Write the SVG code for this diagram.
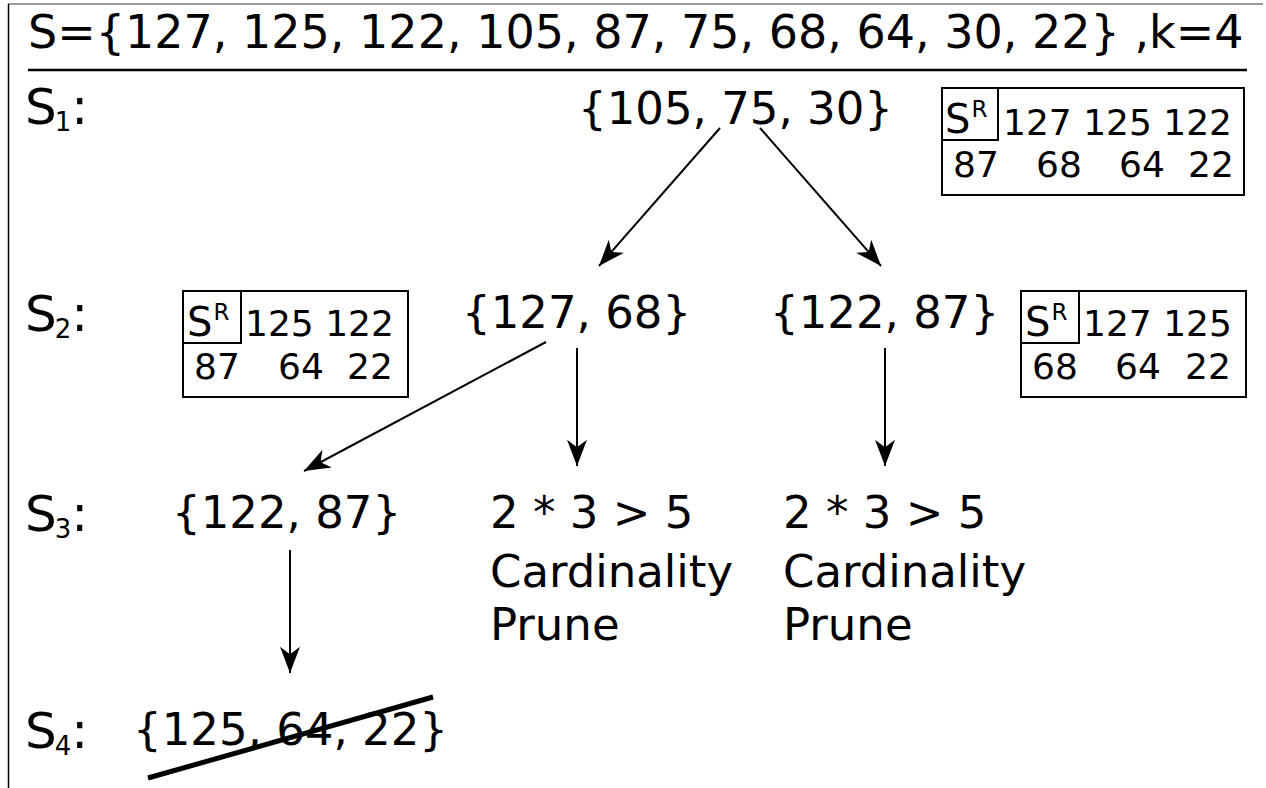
<svg xmlns="http://www.w3.org/2000/svg" width="1266" height="788" viewBox="0 0 1266 788">
<defs>
<style>
text{font-family:"DejaVu Sans","Noto Sans",sans-serif;fill:#000}
.big{font-size:45px}
.lvl{font-size:50px}
.title{font-size:46px}
.sub{font-size:26px}
.bx{font-size:36px}
.sr{font-size:40px}
.sup{font-size:23px}
.edge{stroke:#000;stroke-width:2;fill:none;marker-end:url(#ah)}
.box{fill:none;stroke:#000;stroke-width:2}
</style>
<marker id="ah" markerUnits="userSpaceOnUse" markerWidth="30" markerHeight="30" viewBox="-22 -10 24 20" refX="0" refY="0" orient="auto">
<path d="M0,0 L-21,-8 L-15,0 L-21,8 Z" fill="#000"/>
</marker>
</defs>
<rect width="1266" height="788" fill="#fff"/>
<g id="frame">
<line x1="8" y1="4" x2="1263" y2="4" stroke="#777" stroke-width="1.5"/>
<line x1="8.5" y1="4" x2="8.5" y2="788" stroke="#000" stroke-width="1.5"/>
<line x1="28" y1="70" x2="1247" y2="70" stroke="#000" stroke-width="2.5"/>
</g>
<g id="title"><text class="title" x="28" y="48">S={127, 125, 122, 105, 87, 75, 68, 64, 30, 22} ,k=4</text></g>
<g id="levels">
<text class="lvl" x="25" y="124">S<tspan class="sub" dx="-2" dy="7">1</tspan><tspan dy="-7">:</tspan></text>
<text class="lvl" x="25" y="331">S<tspan class="sub" dx="-2" dy="7">2</tspan><tspan dy="-7">:</tspan></text>
<text class="lvl" x="25" y="531">S<tspan class="sub" dx="-2" dy="7">3</tspan><tspan dy="-7">:</tspan></text>
<text class="lvl" x="25" y="748">S<tspan class="sub" dx="-2" dy="7">4</tspan><tspan dy="-7">:</tspan></text>
</g>
<g id="n1"><text class="big" x="578" y="124">{105, 75, 30}</text></g>
<g id="n2"><text class="big" x="462" y="328">{127, 68}</text></g>
<g id="n3"><text class="big" x="770" y="328">{122, 87}</text></g>
<g id="n4"><text class="big" x="172" y="528">{122, 87}</text></g>
<g id="n5"><text class="big" x="490" y="528">2 * 3 &gt; 5</text><text class="big" x="490" y="587">Cardinality</text><text class="big" x="490" y="640">Prune</text></g>
<g id="n6"><text class="big" x="783" y="528">2 * 3 &gt; 5</text><text class="big" x="783" y="587">Cardinality</text><text class="big" x="783" y="640">Prune</text></g>
<g id="n7"><text class="big" x="133" y="745">{125, 64, 22}</text><line x1="148" y1="778" x2="433" y2="697" stroke="#000" stroke-width="5"/></g>
<g id="sr1">
<rect class="box" x="942" y="88" width="302" height="107"/>
<rect class="box" x="942" y="88" width="56" height="52"/>
<text class="sr" x="945" y="133">S<tspan class="sup" dx="1" dy="-16">R</tspan></text>
<text class="bx" x="1003" y="135">127 125 122</text>
<text class="bx" x="953" y="177">87</text><text class="bx" x="1036" y="177">68</text><text class="bx" x="1119" y="177">64</text><text class="bx" x="1188" y="177">22</text>
</g>
<g id="sr2">
<rect class="box" x="183" y="291" width="225" height="106"/>
<rect class="box" x="183" y="291" width="58" height="52"/>
<text class="sr" x="187" y="336">S<tspan class="sup" dx="1" dy="-16">R</tspan></text>
<text class="bx" x="245" y="336">125 122</text>
<text class="bx" x="194" y="379">87</text><text class="bx" x="278" y="379">64</text><text class="bx" x="347" y="379">22</text>
</g>
<g id="sr3">
<rect class="box" x="1021" y="291" width="225" height="106"/>
<rect class="box" x="1021" y="291" width="58" height="52"/>
<text class="sr" x="1025" y="336">S<tspan class="sup" dx="1" dy="-16">R</tspan></text>
<text class="bx" x="1083" y="336">127 125</text>
<text class="bx" x="1032" y="379">68</text><text class="bx" x="1115" y="379">64</text><text class="bx" x="1185" y="379">22</text>
</g>
<g id="connectors">
<line class="edge" x1="720" y1="128" x2="599" y2="266"/>
<line class="edge" x1="760" y1="128" x2="881" y2="266"/>
<line class="edge" x1="546" y1="342" x2="304" y2="471"/>
<line class="edge" x1="577" y1="348" x2="577" y2="466"/>
<line class="edge" x1="885" y1="348" x2="885" y2="466"/>
<line class="edge" x1="290" y1="550" x2="290" y2="673"/>
</g>
</svg>
